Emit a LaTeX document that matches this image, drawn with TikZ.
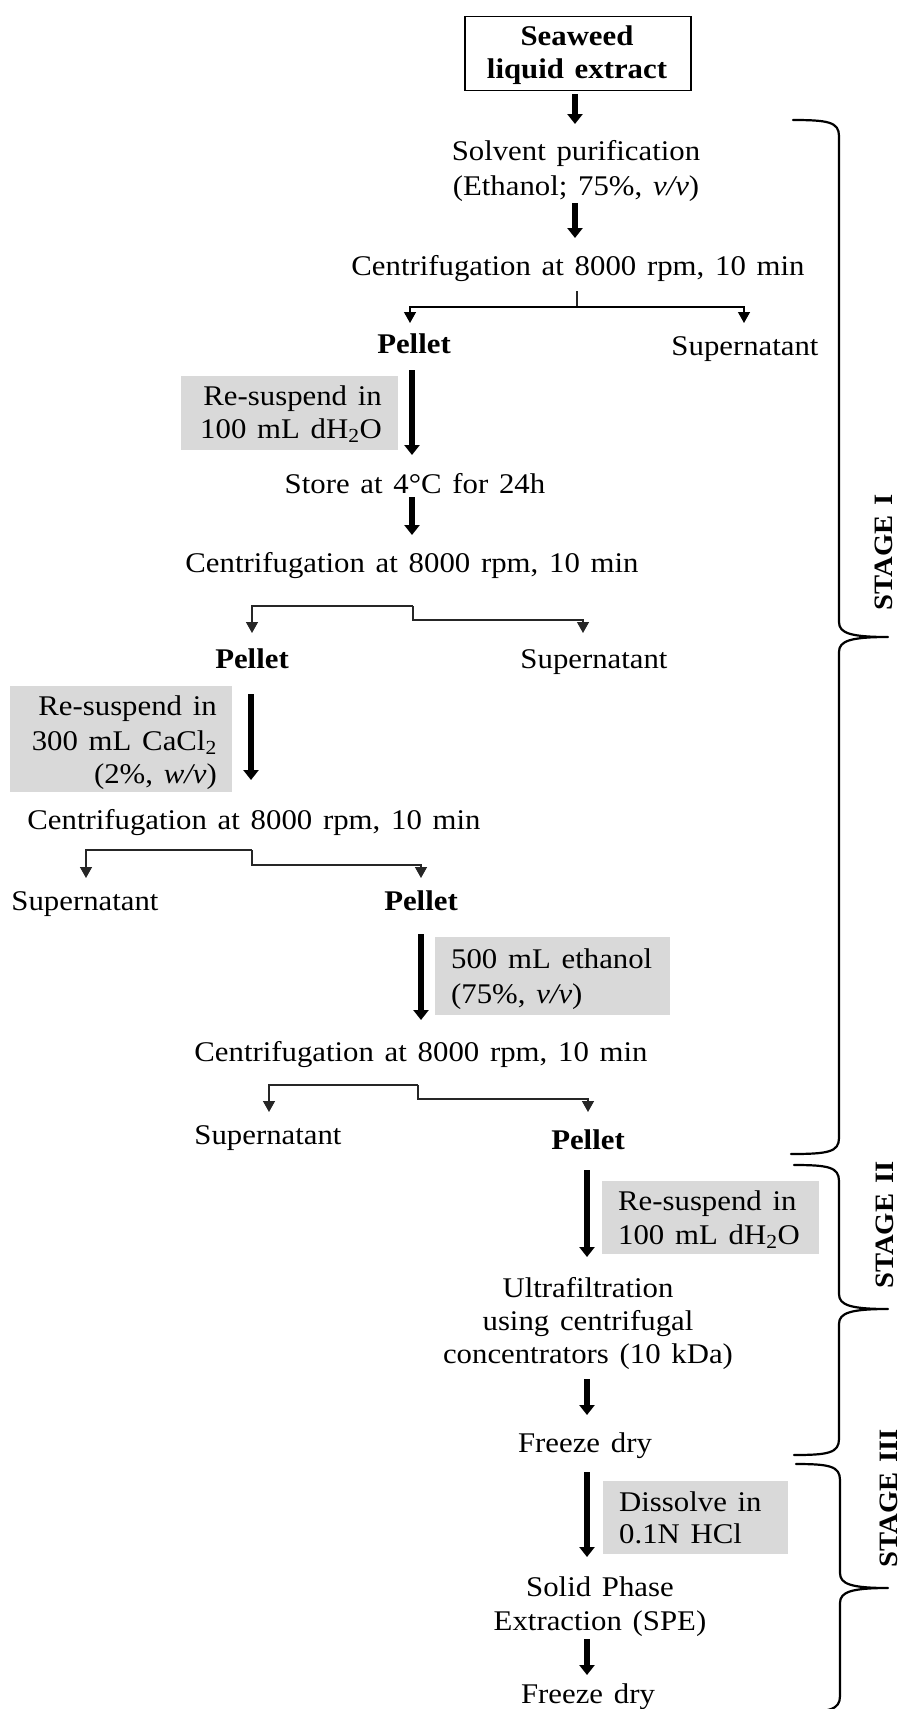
\documentclass[tikz,border=0pt]{standalone}
\usepackage{fontspec}
\setmainfont{Liberation Serif}[FakeStretch=1.08,WordSpace=1.4]
\usetikzlibrary{arrows.meta}
\definecolor{boxgray}{RGB}{217,217,217}
\begin{document}
\begin{tikzpicture}[x=1pt,y=-1pt,
  txt/.style={anchor=base,inner sep=0pt,font=\fontsize{28.5}{33.5}\selectfont},
  btxt/.style={anchor=base,inner sep=0pt,font=\fontsize{28.5}{33.5}\selectfont\bfseries},
  gbox/.style={fill=boxgray,draw=none,inner sep=0pt,anchor=north west},
  srcbox/.style={draw=black,line width=1.5pt,inner sep=0pt,anchor=north west},
  bigarrow/.style={line width=6pt,-{Triangle[width=15pt,length=10pt]}},
  splitline/.style={line width=1.3pt,draw=black!85,-{Triangle[width=12pt,length=11pt]}},
  stubline/.style={line width=1.3pt,draw=black!85},
  brace/.style={line width=2.2pt,line cap=round,line join=round},
  stage/.style={rotate=90,inner sep=0pt,font=\fontsize{26.5}{29}\selectfont\bfseries}
]
\useasboundingbox (0,0) rectangle (903,1709);

% ---------- source box ----------
\node[srcbox,minimum width=226pt,minimum height=74pt] (src) at (464,15.6) {};
\node[btxt] (src1) at (577,45) {Seaweed};
\node[btxt] (src2) at (577,78) {liquid extract};

% ---------- step texts ----------
\node[txt] (solv1) at (576,160) {Solvent purification};
\node[txt] (solv2) at (576,195) {(Ethanol; 75\%, \textit{v/v})};
\node[txt] (c1) at (578,275) {Centrifugation at 8000 rpm, 10 min};
\node[btxt] (p1) at (414,353) {Pellet};
\node[txt] (sn1) at (745,355) {Supernatant};

\node[gbox,minimum width=217pt,minimum height=74pt] (g1) at (181,376) {};
\node[txt,anchor=base east] (g1a) at (382,405) {Re-suspend in};
\node[txt,anchor=base east] (g1b) at (382,438) {100 mL dH\textsubscript{2}O};

\node[txt] (store) at (415,493) {Store at 4°C for 24h};
\node[txt] (c2) at (412,572) {Centrifugation at 8000 rpm, 10 min};
\node[btxt] (p2) at (252,668) {Pellet};
\node[txt] (sn2) at (594,668) {Supernatant};

\node[gbox,minimum width=222pt,minimum height=106pt] (g2) at (10,686) {};
\node[txt,anchor=base east] (g2a) at (217,715) {Re-suspend in};
\node[txt,anchor=base east] (g2b) at (217,750) {300 mL CaCl\textsubscript{2}};
\node[txt,anchor=base east] (g2c) at (217,783) {(2\%, \textit{w/v})};

\node[txt] (c3) at (254,829) {Centrifugation at 8000 rpm, 10 min};
\node[txt] (sn3) at (85,910) {Supernatant};
\node[btxt] (p3) at (421,910) {Pellet};

\node[gbox,minimum width=235pt,minimum height=78pt] (g3) at (435,937) {};
\node[txt,anchor=base west] (g3a) at (451,968) {500 mL ethanol};
\node[txt,anchor=base west] (g3b) at (451,1003) {(75\%, \textit{v/v})};

\node[txt] (c4) at (421,1061) {Centrifugation at 8000 rpm, 10 min};
\node[txt] (sn4) at (268,1144) {Supernatant};
\node[btxt] (p4) at (588,1149) {Pellet};

\node[gbox,minimum width=217pt,minimum height=73pt] (g4) at (602,1181) {};
\node[txt,anchor=base west] (g4a) at (618,1210) {Re-suspend in};
\node[txt,anchor=base west] (g4b) at (618,1244) {100 mL dH\textsubscript{2}O};

\node[txt] (uf1) at (588,1297) {Ultrafiltration};
\node[txt] (uf2) at (588,1330) {using centrifugal};
\node[txt] (uf3) at (588,1363) {concentrators (10 kDa)};
\node[txt] (fd1) at (585,1452) {Freeze dry};

\node[gbox,minimum width=185pt,minimum height=73pt] (g5) at (603,1481) {};
\node[txt,anchor=base west] (g5a) at (619,1511) {Dissolve in};
\node[txt,anchor=base west] (g5b) at (619,1543) {0.1N HCl};

\node[txt] (spe1) at (600,1596) {Solid Phase};
\node[txt] (spe2) at (600,1630) {Extraction (SPE)};
\node[txt] (fd2) at (588,1703) {Freeze dry};

% ---------- thick arrows ----------
\coordinate (a1s) at (575,94);   \coordinate (a1e) at (575,124);
\coordinate (a2s) at (575,203);  \coordinate (a2e) at (575,238);
\coordinate (a3s) at (412,370);  \coordinate (a3e) at (412,455);
\coordinate (a4s) at (412,497);  \coordinate (a4e) at (412,535);
\coordinate (a5s) at (251,694);  \coordinate (a5e) at (251,780);
\coordinate (a6s) at (421,934);  \coordinate (a6e) at (421,1020);
\coordinate (a7s) at (587,1170); \coordinate (a7e) at (587,1257);
\coordinate (a8s) at (587,1379); \coordinate (a8e) at (587,1415);
\coordinate (a9s) at (587,1472); \coordinate (a9e) at (587,1557);
\coordinate (a10s) at (587,1639); \coordinate (a10e) at (587,1675);
\foreach \i in {1,...,10} {\draw[bigarrow] (a\i s) -- (a\i e);}

% ---------- split connectors ----------
\coordinate (s1a) at (577,291); \coordinate (s1b) at (577,307);
\coordinate (s1l) at (410,323); \coordinate (s1r) at (744,323);
\draw[stubline] (s1a) -- (s1b);
\draw[splitline,draw=black] (s1b) -| (s1l);
\draw[splitline,draw=black] (s1b) -| (s1r);

\coordinate (s2a) at (413,606); \coordinate (s2b) at (413,620);
\coordinate (s2l) at (252,633); \coordinate (s2r) at (583,633);
\draw[splitline] (s2a) -| (s2l);
\draw[splitline] (s2a) -- (s2b) -| (s2r);

\coordinate (s3a) at (252,850); \coordinate (s3b) at (252,865);
\coordinate (s3l) at (86,878);  \coordinate (s3r) at (421,878);
\draw[splitline] (s3a) -| (s3l);
\draw[splitline] (s3a) -- (s3b) -| (s3r);

\coordinate (s4a) at (418,1085); \coordinate (s4b) at (418,1099);
\coordinate (s4l) at (269,1112); \coordinate (s4r) at (588,1112);
\draw[splitline] (s4a) -| (s4l);
\draw[splitline] (s4a) -- (s4b) -| (s4r);

% ---------- stage braces ----------
\draw[brace] (793,120) .. controls (828,120) and (839,122) .. (839,136)
  -- (839,622) .. controls (839,633) and (850,637) .. (888,637)
  .. controls (850,637) and (839,641) .. (839,652)
  -- (839,1138) .. controls (839,1152) and (828,1154) .. (791,1154);
\draw[brace] (794,1165) .. controls (828,1165) and (839,1167) .. (839,1181)
  -- (839,1294) .. controls (839,1305) and (850,1309) .. (888,1309)
  .. controls (850,1309) and (839,1313) .. (839,1324)
  -- (839,1439) .. controls (839,1453) and (828,1455) .. (794,1455);
\draw[brace] (796,1464) .. controls (829,1464) and (840,1466) .. (840,1480)
  -- (840,1573) .. controls (840,1584) and (851,1588) .. (888,1588)
  .. controls (851,1588) and (840,1592) .. (840,1603)
  -- (840,1696) .. controls (840,1710) and (829,1712) .. (796,1712);

\node[stage] (st1) at (884,552) {STAGE I};
\node[stage] (st2) at (885,1225) {STAGE II};
\node[stage] (st3) at (889,1498) {STAGE III};
\end{tikzpicture}
\end{document}
